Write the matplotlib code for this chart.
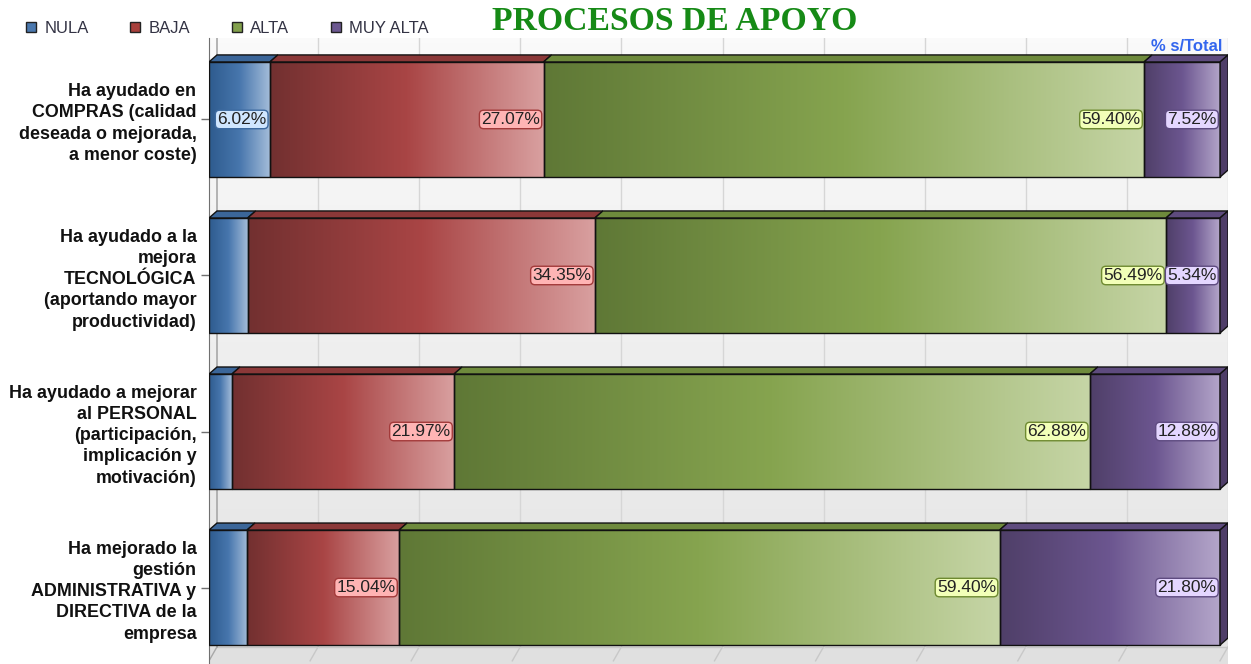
import matplotlib
matplotlib.use('Agg')
import matplotlib.pyplot as plt
from matplotlib.colors import LinearSegmentedColormap
from matplotlib.patches import Rectangle, Polygon, Patch
import numpy as np

# data
questions = [
    "Ha ayudado en\nCOMPRAS (calidad\ndeseada o mejorada,\na menor coste)",
    "Ha ayudado a la\nmejora\nTECNOLÓGICA\n(aportando mayor\nproductividad)",
    "Ha ayudado a mejorar\nal PERSONAL\n(participación,\nimplicación y\nmotivación)",
    "Ha mejorado la\ngestión\nADMINISTRATIVA y\nDIRECTIVA de la\nempresa",
]
series = ["NULA", "BAJA", "ALTA", "MUY ALTA"]
nula = [6.02, 3.82, 2.27, 3.76]
baja = [27.07, 34.35, 21.97, 15.04]
alta = [59.40, 56.49, 62.88, 59.40]
muy_alta = [7.52, 5.34, 12.88, 21.80]
show_label = [[True, True, True, True],
              [False, True, True, True],
              [False, True, True, True],
              [False, True, True, True]]

# styling
grad = {
    "NULA": ["#2e5b8e", "#4776ad", "#a3bcd9"],
    "BAJA": ["#723030", "#a94545", "#d9a0a0"],
    "ALTA": ["#5f7836", "#86a44f", "#c6d5a6"],
    "MUY ALTA": ["#4f3f68", "#6c5690", "#b4a6ca"],
}
top_col = {"NULA": "#3b6699", "BAJA": "#8b3838", "ALTA": "#6e8a3c", "MUY ALTA": "#5e4b7e"}
leg_col = {"NULA": "#4a78ae", "BAJA": "#a8403c", "ALTA": "#82a04c", "MUY ALTA": "#6c5890"}
box_face = {"NULA": "#cfe6ff", "BAJA": "#ffb4b4", "ALTA": "#f2ffb8", "MUY ALTA": "#e4d6ff"}
box_edge = {"NULA": "#3d6aa0", "BAJA": "#a33a3a", "ALTA": "#6e8a30", "MUY ALTA": "#5e4b80"}

W, H = 1251, 664
fig = plt.figure(figsize=(W / 100, H / 100), dpi=100)
ax = fig.add_axes([209 / W, 0, 1019 / W, 626 / H])
xmax = 100 * 1019 / 1011
ytop, ybot = -0.522, 3.49
ax.set_xlim(0, xmax)
ax.set_ylim(ybot, ytop)
for s in ax.spines.values():
    s.set_visible(False)
ax.spines['left'].set_visible(True)
ax.spines['left'].set_color('#707070')

dx = 8 * 100 / 1011
dy = 7 / 156
bh = 115 / 156
floor_y = 3.38

# back wall with soft vertical gradient
wall = LinearSegmentedColormap.from_list('wall', ['#fafafa', '#e4e4e4'])
ax.imshow(np.linspace(0, 1, 128).reshape(-1, 1), cmap=wall, aspect='auto',
          extent=(0, xmax, floor_y, ytop), zorder=0)
ax.add_patch(Rectangle((0, floor_y), xmax, ybot - floor_y, facecolor='#e0e0e0',
                       edgecolor='none', zorder=0.5))
ax.plot([dx, xmax], [floor_y, floor_y], color='#c8c8c8', lw=1, zorder=0.6)
for g in range(10, 101, 10):
    ax.plot([g + dx, g + dx], [ytop, floor_y], color='#d6d6d6', lw=1, zorder=0.6)
    ax.plot([g + dx, g], [floor_y, floor_y + 2 * dy], color='#c8c8c8', lw=1, zorder=0.6)
ax.plot([dx, dx], [ytop, floor_y], color='#a8a8a8', lw=1.2, zorder=0.6)
ax.plot([dx, 0], [floor_y, floor_y + 2 * dy], color='#a8a8a8', lw=1, zorder=0.6)

values = [nula, baja, alta, muy_alta]
y = np.arange(len(questions))
grad_arr = np.linspace(0, 1, 256).reshape(1, -1)

for i in y:
    left = 0
    top = i - bh / 2
    bot = i + bh / 2
    for k, name in enumerate(series):
        v = values[k][i]
        cmap = LinearSegmentedColormap.from_list(name, grad[name])
        ax.imshow(grad_arr, cmap=cmap, aspect='auto',
                  extent=(left, left + v, bot, top), zorder=2)
        ax.add_patch(Rectangle((left, top), v, bh, facecolor='none',
                               edgecolor='#111111', lw=1, zorder=3))
        ax.add_patch(Polygon([(left, top), (left + dx, top - dy),
                              (left + v + dx, top - dy), (left + v, top)],
                             closed=True, facecolor=top_col[name],
                             edgecolor='#111111', lw=1, zorder=3))
        if k == len(series) - 1:
            ax.add_patch(Polygon([(left + v, top), (left + v + dx, top - dy),
                                  (left + v + dx, bot - dy), (left + v, bot)],
                                 closed=True, facecolor='#4e3d68',
                                 edgecolor='#111111', lw=1, zorder=3))
        if show_label[i][k]:
            ax.text(left + v - 0.35, i, f"{v:.2f}%", ha='right', va='center',
                    fontsize=12.5, family='Liberation Sans', color='#222222',
                    zorder=5,
                    bbox=dict(boxstyle='round,pad=0.1,rounding_size=0.25',
                              facecolor=box_face[name], edgecolor=box_edge[name],
                              lw=1))
        left += v

ax.set_yticks(y)
ax.set_yticklabels(questions, fontsize=12.9, fontweight='bold',
                   family='Liberation Sans', color='#111111', linespacing=1.33)
ax.tick_params(axis='y', length=6, pad=3, color='#707070', width=1)
ax.set_xticks([])

# legend
handles = [Patch(facecolor=leg_col[n], edgecolor='#222222', lw=1) for n in series]
fig.legend(handles, series, loc='upper left', bbox_to_anchor=(11 / W, 1 - 6 / H),
           ncol=4, frameon=False, handlelength=0.6, handleheight=0.6,
           handletextpad=0.5, columnspacing=2.5,
           prop={'family': 'Liberation Sans', 'size': 12})
for t in fig.legends[0].get_texts():
    t.set_color('#333344')

fig.text(675 / W, 1 - 22 / H, "PROCESOS DE APOYO", ha='center', va='center',
         fontsize=24.3, fontweight='bold', family='Liberation Serif', color='#168a16')
fig.text(1222 / W, 1 - 54 / H, "% s/Total", ha='right', va='bottom',
         fontsize=12, fontweight='bold', family='Liberation Sans', color='#3366ee')

plt.savefig('out.png', dpi=100)
